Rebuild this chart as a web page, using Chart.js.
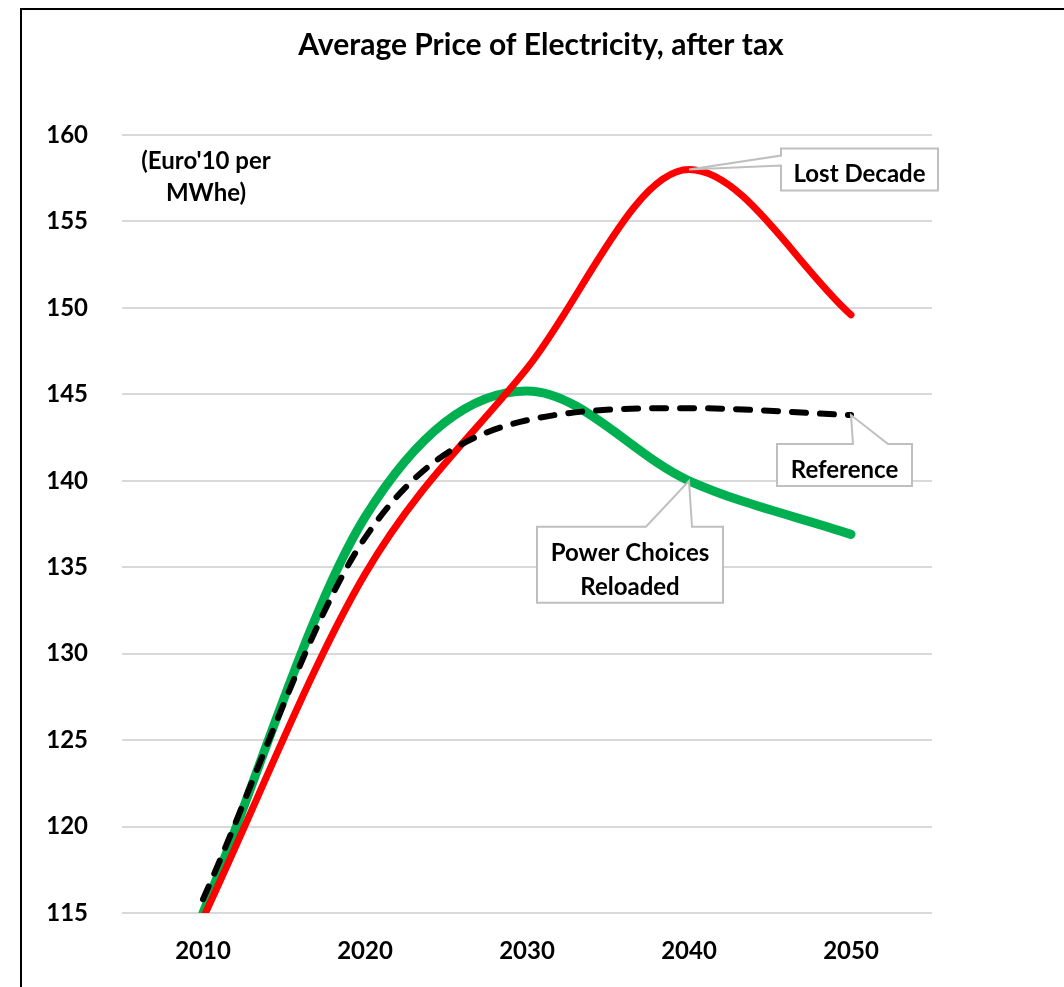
<!DOCTYPE html>
<html>
<head>
<meta charset="utf-8">
<title>Average Price of Electricity, after tax</title>
<script src="https://cdn.jsdelivr.net/npm/chart.js@4"></script>
<style>
  html, body { margin: 0; padding: 0; background: #fff; }
  #wrap { width: 1064px; height: 987px; }
</style>
</head>
<body>
<div id="wrap"><canvas id="priceChart" width="1064" height="987"></canvas></div>
<script>
// years on the category axis
const years = ['2010', '2020', '2030', '2040', '2050'];

// Euro'10 per MWhe
const lostDecade = [114.7, 134.6, 146.5, 158.0, 149.6];
const powerChoices = [115.0, 137.9, 145.2, 140.0, 136.9];
const reference = [115.8, 136.7, 143.5, 144.2, 143.8];

const FONT = 'Lato, "Open Sans", sans-serif';
const TITLE = 'Average Price of Electricity, after tax';

// frame (left and top edges only, the rest runs off the canvas) and title
const framePlugin = {
    id: 'frame',
    beforeDraw(chart) {
        const ctx = chart.ctx;
        ctx.save();
        ctx.fillStyle = '#fff';
        ctx.fillRect(0, 0, chart.width, chart.height);
        ctx.strokeStyle = '#000';
        ctx.lineWidth = 2;
        ctx.beginPath();
        ctx.moveTo(21, chart.height + 2);
        ctx.lineTo(21, 9);
        ctx.lineTo(chart.width + 2, 9);
        ctx.stroke();

        ctx.font = 'bold 30px ' + FONT;
        ctx.fillStyle = '#000';
        ctx.textAlign = 'center';
        ctx.textBaseline = 'alphabetic';
        ctx.fillText(TITLE, 541, 55);
        ctx.restore();
    }
};

// unit note in the top-left corner of the plot
const unitPlugin = {
    id: 'unitNote',
    afterDraw(chart) {
        const ctx = chart.ctx;
        ctx.save();
        ctx.font = 'bold 24px ' + FONT;
        ctx.fillStyle = '#000';
        ctx.textAlign = 'center';
        ctx.textBaseline = 'middle';
        ctx.fillText("(Euro'10 per", 206, 161);
        ctx.fillText('MWhe)', 206, 193);
        ctx.restore();
    }
};

// callout boxes with a wedge pointing at a data point
const callouts = [
    { text: ['Lost Decade'], dataset: 0, index: 3, box: [92, -21, 157, 42], wedge: { side: 'left', a: -14, b: -4 } },
    { text: ['Reference'], dataset: 2, index: 4, box: [-74, 29, 135, 42], wedge: { side: 'top', a: 2, b: 37 } },
    { text: ['Power Choices', 'Reloaded'], dataset: 1, index: 3, box: [-152, 46, 186, 76], wedge: { side: 'top', a: -43, b: 3 } }
];

const calloutPlugin = {
    id: 'callouts',
    afterDatasetsDraw(chart) {
        const ctx = chart.ctx;
        const xs = chart.scales.x, ys = chart.scales.y;
        ctx.save();
        callouts.forEach(c => {
            const v = chart.data.datasets[c.dataset].data[c.index];
            const px = xs.getPixelForValue(c.index);
            const py = ys.getPixelForValue(v);
            const x0 = px + c.box[0], y0 = py + c.box[1];
            const x1 = x0 + c.box[2], y1 = y0 + c.box[3];
            ctx.beginPath();
            if (c.wedge.side === 'left') {
                ctx.moveTo(x0, y0);
                ctx.lineTo(x1, y0);
                ctx.lineTo(x1, y1);
                ctx.lineTo(x0, y1);
                ctx.lineTo(x0, py + c.wedge.b);
                ctx.lineTo(px, py);
                ctx.lineTo(x0, py + c.wedge.a);
                ctx.closePath();
            } else {
                ctx.moveTo(x0, y0);
                ctx.lineTo(px + c.wedge.a, y0);
                ctx.lineTo(px, py);
                ctx.lineTo(px + c.wedge.b, y0);
                ctx.lineTo(x1, y0);
                ctx.lineTo(x1, y1);
                ctx.lineTo(x0, y1);
                ctx.closePath();
            }
            ctx.fillStyle = '#fff';
            ctx.fill();
            ctx.strokeStyle = '#bfbfbf';
            ctx.lineWidth = 2;
            ctx.lineJoin = 'miter';
            ctx.stroke();

            ctx.fillStyle = '#000';
            ctx.font = 'bold 24px ' + FONT;
            ctx.textAlign = 'center';
            ctx.textBaseline = 'middle';
            const cx = (x0 + x1) / 2;
            const step = 34;
            const top = (y0 + y1) / 2 - (c.text.length - 1) * step / 2;
            c.text.forEach((t, i) => ctx.fillText(t, cx, top + i * step + 5));
        });
        ctx.restore();
    }
};

const ctx = document.getElementById('priceChart').getContext('2d');
new Chart(ctx, {
    type: 'line',
    data: {
        labels: years,
        datasets: [
            {
                label: 'Lost Decade',
                data: lostDecade,
                borderColor: '#ff0000',
                borderWidth: 7,
                order: 1
            },
            {
                label: 'Power Choices Reloaded',
                data: powerChoices,
                borderColor: '#00b050',
                borderWidth: 9,
                order: 2
            },
            {
                label: 'Reference',
                data: reference,
                borderColor: '#000000',
                borderWidth: 6,
                borderDash: [14, 14],
                order: 0
            }
        ].map(ds => ({
            ...ds,
            cubicInterpolationMode: 'monotone',
            tension: 0.4,
            pointRadius: 0,
            pointHoverRadius: 0,
            fill: false,
            clip: 0,
            borderCapStyle: 'round',
            borderJoinStyle: 'round'
        }))
    },
    options: {
        responsive: false,
        animation: false,
        events: [],
        layout: {
            padding: { left: 22, right: 132, top: 135, bottom: 24 }
        },
        plugins: {
            legend: { display: false },
            tooltip: { enabled: false },
            title: { display: false }
        },
        scales: {
            x: {
                offset: true,
                grid: { display: false, drawTicks: false },
                border: { display: false },
                ticks: {
                    color: '#000',
                    padding: 24,
                    font: { family: FONT, size: 24, weight: 'bold' }
                },
                afterFit(scale) { scale.height = 50; }
            },
            y: {
                min: 115,
                max: 160,
                grid: { color: '#d9d9d9', lineWidth: 2, drawTicks: false },
                border: { display: false },
                ticks: {
                    stepSize: 5,
                    color: '#000',
                    padding: 34,
                    font: { family: FONT, size: 24, weight: 'bold' }
                },
                afterFit(scale) { scale.width = 100; }
            }
        }
    },
    plugins: [framePlugin, unitPlugin, calloutPlugin]
});
</script>
</body>
</html>
